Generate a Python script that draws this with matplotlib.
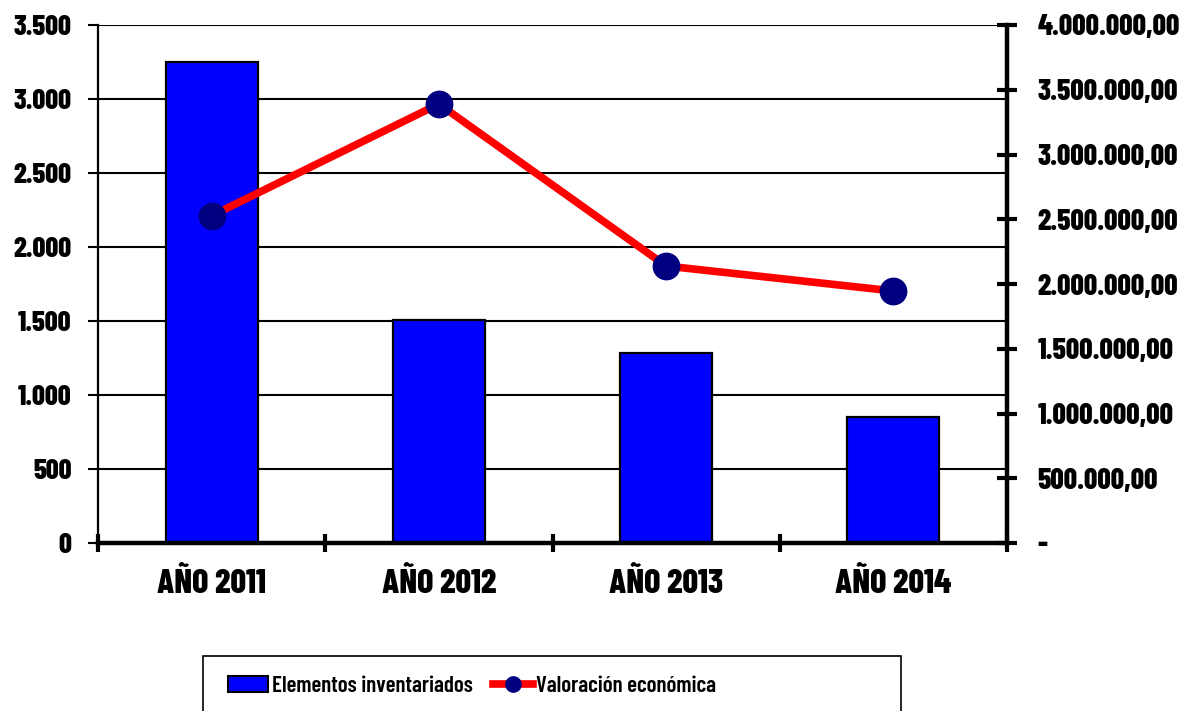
import matplotlib
matplotlib.use("Agg")
import matplotlib.pyplot as plt
from matplotlib.ticker import FuncFormatter, MultipleLocator, FixedLocator
from matplotlib.patches import Rectangle
from matplotlib.lines import Line2D

categories = ["AÑO 2011", "AÑO 2012", "AÑO 2013", "AÑO 2014"]
elementos = [3250, 1507, 1282, 853]
valoracion = [2527000, 3390000, 2139000, 1946000]

plt.rcParams['font.family'] = ['Barlow Condensed', 'Liberation Sans', 'DejaVu Sans']

fig = plt.figure(figsize=(11.88, 7.11), dpi=100)
ax = fig.add_axes([98/1188, 1-543/711, (1007-98)/1188, (543-25)/711])
x = list(range(len(categories)))

ax.bar(x, elementos, width=0.405, color='#0000FF', edgecolor='black', linewidth=1.6, zorder=3)
ax.set_xlim(-0.5, 3.5)
ax.set_ylim(0, 3500)
ax.yaxis.set_major_locator(MultipleLocator(500))

def fmt_left(v, pos):
    return f"{int(round(v)):,}".replace(",", ".")

def fmt_right(v, pos):
    if abs(v) < 1e-6:
        return "-"
    s = f"{v:,.2f}"
    return s.replace(",", "X").replace(".", ",").replace("X", ".")

ax.yaxis.set_major_formatter(FuncFormatter(fmt_left))
ax.grid(axis='y', color='black', linewidth=1.5, zorder=0)
ax.set_axisbelow(True)

ax.set_xticks(x)
ax.set_xticklabels(categories)
ax.xaxis.set_minor_locator(FixedLocator([-0.5, 0.5, 1.5, 2.5, 3.5]))
ax.tick_params(axis='x', which='major', length=0, pad=18)
ax.tick_params(axis='x', which='minor', direction='inout', length=13, width=3)
ax.tick_params(axis='y', which='major', direction='out', length=7, width=1.5, pad=12)

for lab in ax.get_yticklabels():
    lab.set_fontweight(800)
    lab.set_fontsize(20.5)
for lab in ax.get_xticklabels():
    lab.set_fontweight(800)
    lab.set_fontsize(24.5)

ax.spines['top'].set_visible(False)
ax.spines['right'].set_visible(False)
ax.spines['left'].set_linewidth(1.6)
ax.spines['bottom'].set_linewidth(3.2)
ax.spines['bottom'].set_zorder(5)

ax2 = ax.twinx()
ax2.plot(x, valoracion, color='#FF0000', linewidth=5.5, marker='o', markersize=19,
         markerfacecolor='#000080', markeredgecolor='#000080', zorder=4, solid_capstyle='butt')
ax2.set_ylim(0, 4000000)
ax2.yaxis.set_major_locator(MultipleLocator(500000))
ax2.yaxis.set_major_formatter(FuncFormatter(fmt_right))
ax2.tick_params(axis='y', direction='inout', length=14, width=3, pad=15)
for lab in ax2.get_yticklabels():
    lab.set_fontweight(800)
    lab.set_fontsize(21.2)
for s in ['top', 'left', 'bottom']:
    ax2.spines[s].set_visible(False)
ax2.spines['right'].set_linewidth(3.2)

fig.canvas.draw()
gl = ax.yaxis.get_gridlines()
if gl:
    gl[-1].set_color('#909090')
    gl[-1].set_linewidth(2.5)

# legend
fig.patches.append(Rectangle((203/1188, -0.05), (901-203)/1188, (0.05 + 1-656/711),
                             transform=fig.transFigure, fill=False, edgecolor='black', linewidth=1.2))
handles = [Rectangle((0, 0), 1, 1, facecolor='#0000FF', edgecolor='black', linewidth=1.5),
           Line2D([], [], color='#FF0000', linewidth=5.5, marker='o', markersize=11,
                  markerfacecolor='#000080', markeredgecolor='#000080')]
leg = fig.legend(handles, ["Elementos inventariados", "Valoración económica"], ncol=2,
                 loc='center left', bbox_to_anchor=(228/1188, 1-686/711), frameon=False,
                 prop={'size': 16.5, 'weight': 600}, handlelength=1.75, handleheight=0.65,
                 handletextpad=0.15, columnspacing=0.9, borderaxespad=0, borderpad=0)

fig.savefig("out.png", dpi=100)
